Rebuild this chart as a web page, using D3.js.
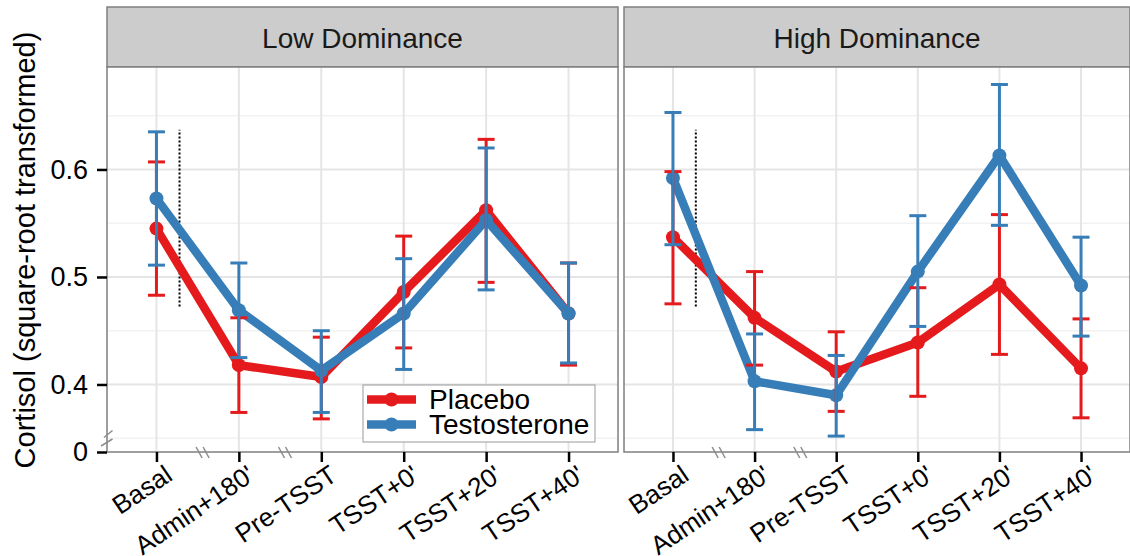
<!DOCTYPE html>
<html>
<head>
<meta charset="utf-8">
<script src="https://cdn.jsdelivr.net/npm/d3@7"></script>
<style>
  body { margin: 0; background: #fff; }
  text { font-family: "Liberation Sans", Arial, sans-serif; }
</style>
</head>
<body>
<svg id="chart" width="1130" height="556"></svg>
<script>
// Data
const categories = ["Basal", "Admin+180'", "Pre-TSST", "TSST+0'", "TSST+20'", "TSST+40'"];
const panelNames = ["Low Dominance", "High Dominance"];
const groups = ["Placebo", "Testosterone"];

const lowPlacebo   = [0.545, 0.418, 0.407, 0.486, 0.562, 0.466];
const lowPlaceboLo = [0.483, 0.374, 0.368, 0.434, 0.495, 0.418];
const lowPlaceboHi = [0.607, 0.462, 0.444, 0.538, 0.628, 0.513];

const lowTesto   = [0.573, 0.469, 0.413, 0.466, 0.553, 0.466];
const lowTestoLo = [0.511, 0.425, 0.374, 0.414, 0.488, 0.420];
const lowTestoHi = [0.635, 0.513, 0.450, 0.517, 0.620, 0.513];

const highPlacebo   = [0.537, 0.462, 0.412, 0.439, 0.493, 0.415];
const highPlaceboLo = [0.475, 0.418, 0.375, 0.389, 0.428, 0.369];
const highPlaceboHi = [0.598, 0.505, 0.449, 0.490, 0.558, 0.461];

const highTesto   = [0.592, 0.403, 0.390, 0.505, 0.613, 0.492];
const highTestoLo = [0.530, 0.358, 0.352, 0.454, 0.548, 0.445];
const highTestoHi = [0.653, 0.447, 0.427, 0.557, 0.679, 0.537];

// axis break: the bottom of the panel is labelled "0"
const yMajor = [0.4, 0.5, 0.6];
const yMinor = [0.35, 0.45, 0.55, 0.65];
const yTickLabels = ["0", "0.4", "0.5", "0.6"];
const dashedRange = [0.4726, 0.637];   // dotted marker after Basal

const colors = { Placebo: "#E41A1C", Testosterone: "#377EB8" };

const panels = [
  { name: panelNames[0], series: [
    { group: groups[0], mean: lowPlacebo, lo: lowPlaceboLo, hi: lowPlaceboHi },
    { group: groups[1], mean: lowTesto, lo: lowTestoLo, hi: lowTestoHi }] },
  { name: panelNames[1], series: [
    { group: groups[0], mean: highPlacebo, lo: highPlaceboLo, hi: highPlaceboHi },
    { group: groups[1], mean: highTesto, lo: highTestoLo, hi: highTestoHi }] }
];

// Layout
const stripTop = 7, panelTop = 67, panelBottom = 452;
const panelX = [[107, 618], [624, 1130]];

const svg = d3.select("#chart");

const y = d3.scaleLinear().domain([0.3372, 0.6953]).range([panelBottom, panelTop]);
const yTickValues = [y.domain()[0]].concat(yMajor);

panels.forEach((p, pi) => {
  const [x0, x1] = panelX[pi];
  const x = d3.scalePoint().domain(categories).range([x0, x1]).padding(0.6);
  const step = x.step();
  const g = svg.append("g");

  // strip
  g.append("rect")
    .attr("x", x0).attr("y", stripTop)
    .attr("width", x1 - x0).attr("height", panelTop - stripTop)
    .attr("fill", "#CCCCCC").attr("stroke", "#7F7F7F").attr("stroke-width", 1.5);
  g.append("text")
    .attr("x", (x0 + x1) / 2).attr("y", (stripTop + panelTop) / 2 + 1)
    .attr("dy", "0.35em").attr("text-anchor", "middle")
    .attr("font-size", 28).attr("fill", "#1a1a1a")
    .text(p.name);

  // panel background & grid
  g.append("rect")
    .attr("x", x0).attr("y", panelTop)
    .attr("width", x1 - x0).attr("height", panelBottom - panelTop)
    .attr("fill", "#fff");
  g.selectAll(".minor").data(yMinor).join("line")
    .attr("x1", x0).attr("x2", x1)
    .attr("y1", d => y(d)).attr("y2", d => y(d))
    .attr("stroke", "#F2F2F2").attr("stroke-width", 1.5);
  g.selectAll(".major").data(yMajor).join("line")
    .attr("x1", x0).attr("x2", x1)
    .attr("y1", d => y(d)).attr("y2", d => y(d))
    .attr("stroke", "#E5E5E5").attr("stroke-width", 2);
  g.selectAll(".vgrid").data(categories).join("line")
    .attr("x1", d => x(d)).attr("x2", d => x(d))
    .attr("y1", panelTop).attr("y2", panelBottom)
    .attr("stroke", "#E5E5E5").attr("stroke-width", 2);

  // dotted marker
  g.append("line")
    .attr("x1", x(categories[0]) + 0.28 * step).attr("x2", x(categories[0]) + 0.28 * step)
    .attr("y1", y(dashedRange[0])).attr("y2", y(dashedRange[1]))
    .attr("stroke", "#000").attr("stroke-width", 2).attr("stroke-dasharray", "2,2");

  const line = d3.line().x((d, i) => x(categories[i])).y(d => y(d));

  p.series.forEach(s => {
    g.append("path").datum(s.mean)
      .attr("d", line).attr("fill", "none")
      .attr("stroke", colors[s.group]).attr("stroke-width", 8.5)
      .attr("stroke-linejoin", "round");
  });
  p.series.forEach(s => {
    g.selectAll(null).data(s.mean).join("circle")
      .attr("cx", (d, i) => x(categories[i])).attr("cy", d => y(d))
      .attr("r", 7).attr("fill", colors[s.group]);
  });
  p.series.forEach(s => {
    const eb = g.append("g").attr("stroke", colors[s.group]).attr("stroke-width", 3);
    s.mean.forEach((m, i) => {
      const cx = x(categories[i]);
      eb.append("line").attr("x1", cx).attr("x2", cx).attr("y1", y(s.lo[i])).attr("y2", y(s.hi[i]));
      eb.append("line").attr("x1", cx - 8.5).attr("x2", cx + 8.5).attr("y1", y(s.lo[i])).attr("y2", y(s.lo[i]));
      eb.append("line").attr("x1", cx - 8.5).attr("x2", cx + 8.5).attr("y1", y(s.hi[i])).attr("y2", y(s.hi[i]));
    });
  });

  // panel border
  g.append("rect")
    .attr("x", x0).attr("y", panelTop)
    .attr("width", x1 - x0).attr("height", panelBottom - panelTop)
    .attr("fill", "none").attr("stroke", "#7F7F7F").attr("stroke-width", 1.5);

  // x axis
  const xAxis = g.append("g")
    .attr("transform", `translate(0,${panelBottom})`)
    .call(d3.axisBottom(x).tickSize(10).tickPadding(0));
  xAxis.select(".domain").remove();
  xAxis.selectAll(".tick line").attr("stroke", "#000").attr("stroke-width", 2.5);
  xAxis.selectAll(".tick text")
    .attr("font-size", 26).attr("fill", "#000")
    .attr("text-anchor", "end").attr("dy", 0).attr("y", 0).attr("x", 0)
    .attr("transform", "translate(17,27) rotate(-34)");

  // x axis breaks between the first three categories
  [0, 1].forEach(i => {
    const bx = x(categories[i]) + 0.56 * step;
    [-3.5, 3.5].forEach(off => {
      g.append("line")
        .attr("x1", bx + off - 3).attr("x2", bx + off + 3)
        .attr("y1", panelBottom - 5).attr("y2", panelBottom + 6)
        .attr("stroke", "#8c8c8c").attr("stroke-width", 1.5);
    });
  });

  if (pi === 0) {
    // y axis
    const yAxis = g.append("g")
      .attr("transform", `translate(${x0},0)`)
      .call(d3.axisLeft(y).tickValues(yTickValues)
        .tickFormat((d, i) => yTickLabels[i]).tickSize(10).tickPadding(9));
    yAxis.select(".domain").remove();
    yAxis.selectAll(".tick line").attr("stroke", "#000").attr("stroke-width", 2.5);
    yAxis.selectAll(".tick text").attr("font-size", 27).attr("fill", "#000");

    // y break
    [[101, 446, 112.5, 439], [104, 437.5, 112.5, 430.5]].forEach(c => {
      g.append("line")
        .attr("x1", c[0]).attr("y1", c[1]).attr("x2", c[2]).attr("y2", c[3])
        .attr("stroke", "#8c8c8c").attr("stroke-width", 1.5);
    });

    // legend
    const lg = g.append("g").attr("transform", "translate(363,385)");
    lg.append("rect").attr("width", 232).attr("height", 57)
      .attr("fill", "#fff").attr("stroke", "#999").attr("stroke-width", 1);
    groups.forEach((grp, i) => {
      const ly = 14.5 + i * 25;
      lg.append("line").attr("x1", 4).attr("x2", 53).attr("y1", ly).attr("y2", ly)
        .attr("stroke", colors[grp]).attr("stroke-width", 8.5);
      lg.append("circle").attr("cx", 28.5).attr("cy", ly).attr("r", 7).attr("fill", colors[grp]);
      lg.append("text").attr("x", 66).attr("y", ly).attr("dy", "0.35em")
        .attr("font-size", 28).attr("fill", "#000").text(grp);
    });
  }
});

// y axis title
svg.append("text")
  .attr("transform", "translate(35,250) rotate(-90)")
  .attr("text-anchor", "middle")
  .attr("font-size", 29).attr("fill", "#000")
  .text("Cortisol (square-root transformed)");
</script>
</body>
</html>
